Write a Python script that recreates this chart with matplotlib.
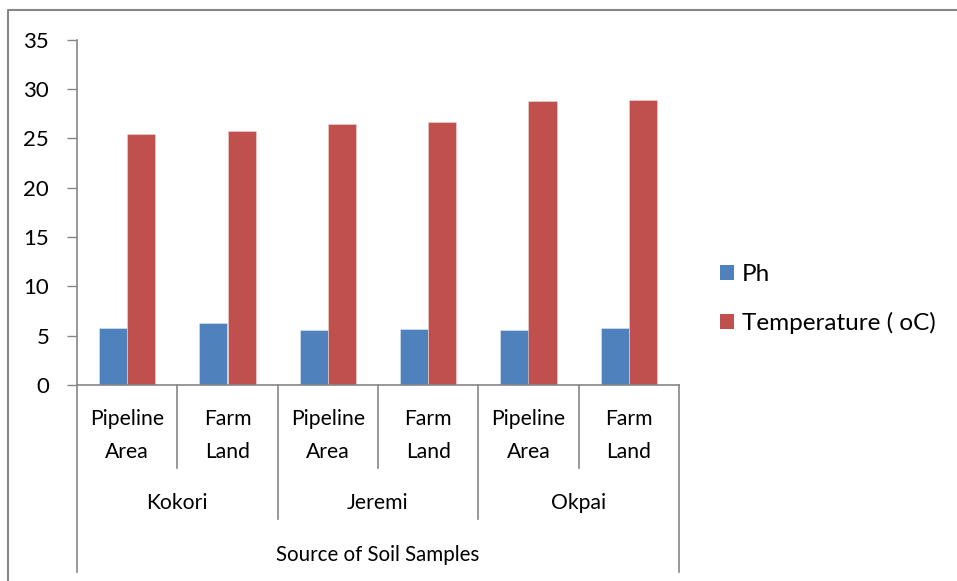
import matplotlib
matplotlib.use("Agg")
import matplotlib.pyplot as plt
from matplotlib.transforms import blended_transform_factory
from matplotlib.lines import Line2D
from matplotlib.patches import Patch

# Data
sites = ["Kokori", "Jeremi", "Okpai"]
sub_labels = ["Pipeline\nArea", "Farm\nLand"] * 3
ph = [5.8, 6.3, 5.6, 5.7, 5.6, 5.8]
temperature = [25.4, 25.7, 26.5, 26.7, 28.8, 28.9]
series_names = ["Ph", "Temperature ( oC)"]
y_ticks = [0, 5, 10, 15, 20, 25, 30, 35]
x_title = "Source of Soil Samples"

BLUE = "#4F81BD"
RED = "#C0504D"
GRID = "#868686"
FONT = "Lato"

W, H = 957, 581
fig = plt.figure(figsize=(W / 100, H / 100), dpi=100)
plt.rcParams["font.family"] = [FONT, "DejaVu Sans"]

def fy(py):
    return 1 - py / H

def fx(px):
    return px / W

ax = fig.add_axes([fx(77), fy(385), fx(679) - fx(77), fy(39.7) - fy(385)])

n = len(ph)
xs = list(range(n))
bw = 0.28
ax.bar([x - bw / 2 for x in xs], ph, width=bw, color=BLUE, edgecolor="#dfe8f3", linewidth=0.4)
ax.bar([x + bw / 2 for x in xs], temperature, width=bw, color=RED, edgecolor="#f0d6d5", linewidth=0.4)

ax.set_xlim(-0.5, n - 0.5)
ax.set_ylim(0, 35)
ax.set_yticks(y_ticks)
ax.set_yticklabels([str(t) for t in y_ticks], fontsize=16)
ax.tick_params(axis="y", direction="out", length=7, width=1, color=GRID, pad=13)
ax.set_xticks([])

for side in ["top", "right"]:
    ax.spines[side].set_visible(False)
ax.spines["left"].set_color(GRID)
ax.spines["bottom"].set_color(GRID)
ax.spines["left"].set_linewidth(1.2)
ax.spines["bottom"].set_linewidth(1.2)

# Multi-level category axis below the plot
tr = blended_transform_factory(ax.transData, fig.transFigure)
for i in range(n + 1):
    xb = i - 0.5
    if i in (0, n):
        y_end = 572
    elif i % 2 == 0:
        y_end = 519
    else:
        y_end = 468
    fig.add_artist(Line2D([xb, xb], [fy(385), fy(y_end)], transform=tr,
                          color=GRID, linewidth=1.2))

for x, lab in zip(xs, sub_labels):
    fig.text(x, fy(435.5), lab, transform=tr, ha="center", va="center",
             fontsize=15.2, linespacing=1.85)

for g, site in enumerate(sites):
    fig.text(2 * g + 0.5, fy(503), site, transform=tr, ha="center", va="center",
             fontsize=15.2)

fig.text((n - 1) / 2, fy(555), x_title, transform=tr, ha="center", va="center",
         fontsize=14.8)

# Legend
handles = [Patch(facecolor=BLUE, edgecolor="none"), Patch(facecolor=RED, edgecolor="none")]
fig.legend(handles, series_names, loc="center left", bbox_to_anchor=(fx(698), fy(299)),
           frameon=False, fontsize=17.5, handlelength=0.6, handleheight=0.6,
           handletextpad=0.3, labelspacing=1.1, borderpad=0.4)

# Chart frame
frame = Line2D([fx(8), fx(8), fx(960)], [fy(581), fy(10), fy(10)],
               transform=fig.transFigure, color=GRID, linewidth=1.5)
fig.add_artist(frame)

fig.savefig("out.png", dpi=100)
